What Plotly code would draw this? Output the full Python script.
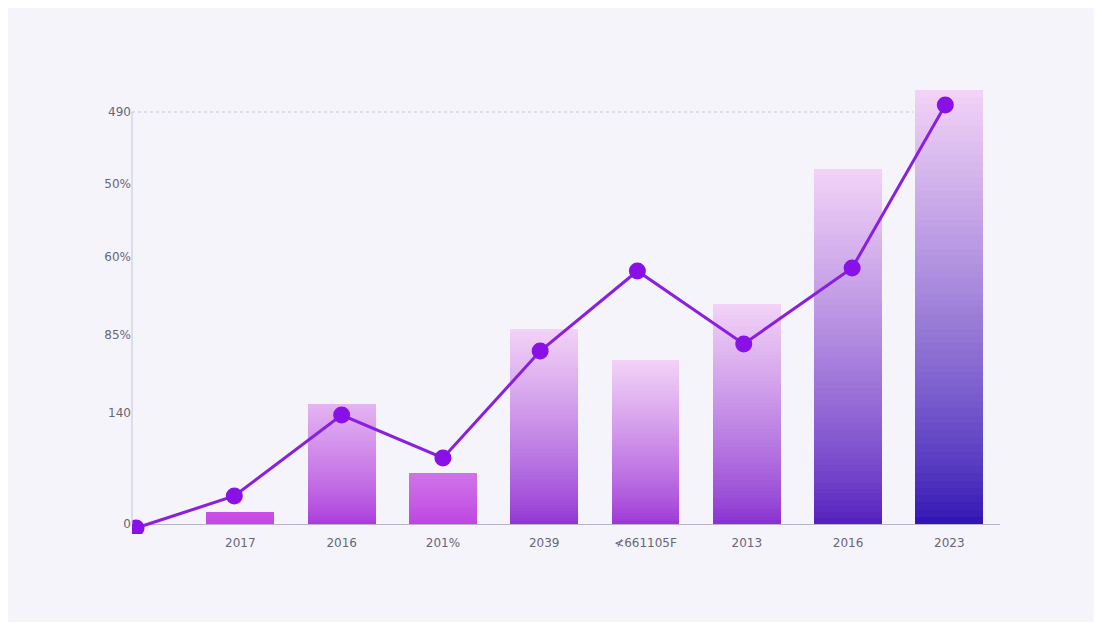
import plotly.graph_objects as go

# ---- data ----
x_labels = ["2017", "2016", "201%", "2039", "≮661105F", "2013", "2016", "2023"]
bar_values = [12, 120, 51, 195, 164, 220, 355, 434]

line_x = [-1.03, -0.06, 1, 2, 2.96, 3.92, 4.97, 6.04, 6.96]
line_y = [-4, 28, 109, 66, 173, 253, 180, 256, 419]

tick_vals = [0, 111, 189, 267, 340, 412]
tick_text = ["0", "140", "85%", "60%", "50%", "490"]


def mix(c1, c2, t):
    return "rgb(%d,%d,%d)" % tuple(int(a + (b - a) * t) for a, b in zip(c1, c2))


top_col = (242, 210, 247)
short_bottom = (200, 70, 230)
tall_bottom = (50, 22, 180)
max_val = max(bar_values)

fig = go.Figure()

# fake a vertical gradient by stacking thin slices of each bar
n_slices = 60
for s in range(n_slices):
    f = s / (n_slices - 1)
    colors = []
    for v in bar_values:
        bottom = tuple(int(a + (b - a) * (v / max_val) ** 1.3) for a, b in zip(short_bottom, tall_bottom))
        colors.append(mix(bottom, top_col, f ** 0.8 * min(1, v / 150)))
    fig.add_trace(go.Bar(
        x=list(range(len(bar_values))),
        y=[v / n_slices for v in bar_values],
        marker=dict(color=colors, line=dict(width=0)),
        width=0.67,
        showlegend=False,
        hoverinfo="skip",
    ))

fig.add_trace(go.Scatter(
    x=line_x, y=line_y, mode="lines+markers",
    line=dict(color="#8a1fe0", width=3),
    marker=dict(color="#8a10e8", size=17),
    showlegend=False,
))

fig.update_layout(
    barmode="stack",
    bargap=0,
    width=1086, height=614,
    margin=dict(l=124, r=94, t=71, b=88),
    paper_bgcolor="#f6f4fb",
    plot_bgcolor="rgba(0,0,0,0)",
    font=dict(family="DejaVu Sans", size=12, color="#666677"),
    xaxis=dict(
        range=[-1.07, 7.5],
        tickvals=list(range(len(x_labels))),
        ticktext=x_labels,
        showgrid=False, zeroline=False,
        showline=False, ticks="",
    ),
    yaxis=dict(
        range=[-10, 445],
        tickvals=tick_vals,
        ticktext=tick_text,
        showgrid=False, zeroline=True, zerolinecolor="#b8b4cc", zerolinewidth=1,
        showline=False, ticks="",
    ),
)

# axis line on the left and dotted guide at the top tick
fig.add_shape(type="line", xref="paper", yref="y", x0=0, x1=0, y0=0, y1=412,
              line=dict(color="#c8c4d8", width=1))
fig.add_shape(type="line", xref="paper", yref="y", x0=0, x1=0.9, y0=412, y1=412,
              line=dict(color="#c8c4d8", width=1, dash="dot"), layer="below")

fig.write_html("out.html")
